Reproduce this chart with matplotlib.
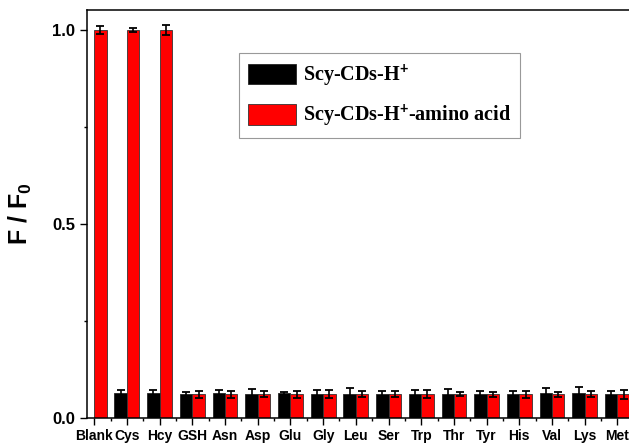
import numpy as np
import matplotlib
matplotlib.use("Agg")
import matplotlib.pyplot as plt
from matplotlib.ticker import MultipleLocator

plt.rcParams['font.family'] = ['Liberation Sans', 'DejaVu Sans']
plt.rcParams['mathtext.fontset'] = 'custom'
plt.rcParams['mathtext.rm'] = 'Liberation Serif:bold'
plt.rcParams['mathtext.sf'] = 'Liberation Sans:bold'

# Data
categories = ["Blank", "Cys", "Hcy", "GSH", "Asn", "Asp", "Glu", "Gly", "Leu",
              "Ser", "Trp", "Thr", "Tyr", "His", "Val", "Lys", "Met"]
probe = [np.nan, 0.062, 0.062, 0.061, 0.062, 0.061, 0.062, 0.061, 0.061,
         0.061, 0.061, 0.061, 0.061, 0.061, 0.062, 0.062, 0.061]
probe_err = [0, 0.008, 0.008, 0.005, 0.008, 0.012, 0.003, 0.010, 0.014,
             0.008, 0.010, 0.012, 0.008, 0.008, 0.014, 0.016, 0.007]
probe_aa = [1.0, 1.0, 1.0, 0.060, 0.060, 0.060, 0.060, 0.060, 0.060,
            0.060, 0.060, 0.060, 0.060, 0.060, 0.060, 0.060, 0.060]
probe_aa_err = [0.010, 0.006, 0.012, 0.009, 0.009, 0.008, 0.009, 0.010, 0.008,
                0.008, 0.010, 0.005, 0.007, 0.009, 0.007, 0.008, 0.012]

fig = plt.figure(figsize=(6.29, 4.44), dpi=100)
ax = fig.add_axes([87 / 629, 26.5 / 444, 555 / 629, 407.5 / 444])

x = np.arange(len(categories))
w = 0.38
err_kw = dict(ecolor='black', elinewidth=1.2, capsize=3.2, capthick=1.3)
ax.bar(x - w / 2, probe, w, yerr=probe_err, color='black', edgecolor='#222222',
       linewidth=0.6, error_kw=err_kw, label='Scy-CDs-H$^\\mathsf{+}$')
ax.bar(x + w / 2, probe_aa, w, yerr=probe_aa_err, color='#ff0000', edgecolor='#333333',
       linewidth=0.6, error_kw=err_kw, label='Scy-CDs-H$^\\mathsf{+}$-amino acid')

ax.set_xlim(-0.22, 16.75)
ax.set_ylim(0, 1.052)
ax.set_xticks(x)
ax.set_xticklabels(categories, fontsize=10, fontweight='bold')
ax.set_xticks(x + 0.5, minor=True)
ax.set_yticks([0, 0.5, 1.0])
ax.set_yticklabels(["0.0", "0.5", "1.0"], fontsize=12, fontweight='bold')
ax.yaxis.set_minor_locator(MultipleLocator(0.25))
ax.tick_params(which='major', direction='out', length=5, width=1)
ax.tick_params(which='minor', direction='out', length=2.5, width=1)
ax.tick_params(axis='x', pad=3)
for s in ax.spines.values():
    s.set_linewidth(1.1)

ax.set_ylabel("F / F$_\\mathsf{0}$", fontsize=18, fontweight='bold', labelpad=13)

leg = ax.legend(loc='upper left', bbox_to_anchor=(0.274, 0.894), borderaxespad=0,
                prop={'family': 'Liberation Serif', 'weight': 'bold', 'size': 14.5},
                handlelength=2.4, handleheight=1.2, handletextpad=0.3,
                labelspacing=0.7, borderpad=0.45, fancybox=False, framealpha=1,
                edgecolor='#999999')
leg.get_frame().set_linewidth(0.8)

fig.savefig("out.png", dpi=100)
